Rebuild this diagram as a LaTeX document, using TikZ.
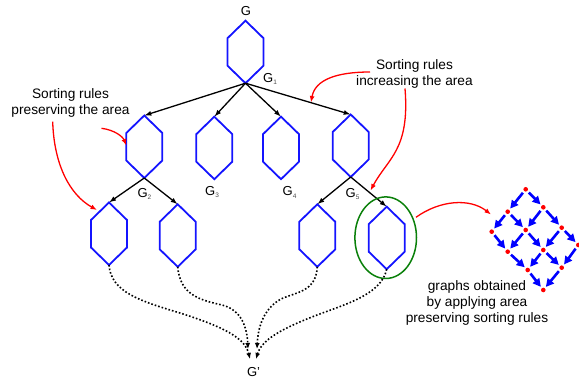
\documentclass[tikz,border=0pt]{standalone}
\usepackage{fontspec}
\setmainfont{Liberation Sans}
\usetikzlibrary{arrows.meta,shapes.geometric}
\definecolor{hexblue}{RGB}{20,20,255}
\definecolor{ringgreen}{RGB}{10,128,10}
\newcommand\gname[1]{G\raisebox{-2.6pt}{\fontsize{6.5}{7}\selectfont\color{black!70}#1}}
\tikzset{
  hexline/.style={draw=hexblue, line width=1.8pt},
  hexa/.pic={
    \draw[hexline] (0,0) -- (18,17.5) -- (18,45) -- (0,62.5) -- (-18,45) -- (-18,17.5) -- cycle;
    \coordinate (-top) at (0,0);
    \coordinate (-bot) at (0,62.5);
  },
  ruleedge/.style={line width=1.3pt, -{Latex[length=7pt,width=5pt]}},
  noteedge/.style={draw=red, line width=1.3pt, -{Latex[length=6.5pt,width=5pt]}},
  mergeedge/.style={line width=1.6pt, dotted, -{Latex[length=6pt,width=5pt]}},
  latedge/.style={draw=blue, line width=2.6pt, shorten <=2pt, shorten >=1.5pt,
                  -{Triangle[length=8pt,width=8pt]}},
  latdot/.style={circle, fill=red, inner sep=0pt, minimum size=4.6pt},
  gl/.style={font=\fontsize{13}{15}\selectfont, inner sep=0pt},
  note/.style={font=\fontsize{13.7}{16}\selectfont, align=center, inner sep=0pt},
}
\begin{document}
\begin{tikzpicture}[x=1pt,y=-1pt]
\useasboundingbox (0,0) rectangle (579,379);

% derivation tree of hexagon graphs
\pic (h0) at (245.5,20.7) {hexa};
\pic (h1) at (144.3,115.5) {hexa};
\pic (h2) at (214.3,116.7) {hexa};
\pic (h3) at (281,116.7) {hexa};
\pic (h4) at (350.7,114.5) {hexa};
\pic (h5) at (109,202.5) {hexa};
\pic (h6) at (177.7,204.3) {hexa};
\pic (h7) at (317.3,204.3) {hexa};
\pic (h8) at (386.7,206.7) {hexa};

\draw[ruleedge] (h0-bot) -- (h1-top);
\draw[ruleedge] (h0-bot) -- (h2-top);
\draw[ruleedge] (h0-bot) -- (h3-top);
\draw[ruleedge] (h0-bot) -- (h4-top);
\draw[ruleedge] (h1-bot) -- (h5-top);
\draw[ruleedge] (h1-bot) -- (h6-top);
\draw[ruleedge] (h4-bot) -- (h7-top);
\draw[ruleedge] (h4-bot) -- (h8-top);

% labels
\node[gl] (lg)  at (246,11.5) {G};
\node[gl] (lg1) at (270,79) {\gname{1}};
\node[gl] (lg2) at (144.5,194) {\gname{2}};
\node[gl] (lg3) at (212,192) {\gname{3}};
\node[gl] (lg4) at (289.5,192.5) {\gname{4}};
\node[gl] (lg5) at (352.5,194) {\gname{5}};
\node[gl] (lgp) at (253.5,372) {G'};

% selected graph
\node[draw=ringgreen, line width=1.5pt, ellipse, minimum width=61.6pt, minimum height=81.6pt, inner sep=0pt] (ring) at (385.7,237.7) {};

% merging towards G'
\coordinate (m1) at (250,359);
\coordinate (m2) at (248,349);
\coordinate (m3) at (257,349);
\coordinate (m4) at (256,359);
\draw[mergeedge] (h5-bot) .. controls (111,292) and (140,301) .. (180,313)
                 .. controls (224,327) and (245,338) .. (m1);
\draw[mergeedge] (h6-bot) .. controls (180,295) and (200,300) .. (222,305)
                 .. controls (242,310) and (247,328) .. (m2);
\draw[mergeedge] (h7-bot) .. controls (316,292) and (296,292) .. (281,299)
                 .. controls (263,309) and (258,328) .. (m3);
\draw[mergeedge] (h8-bot) .. controls (381,296) and (342,305) .. (312,317)
                 .. controls (276,331) and (261,342) .. (m4);

% annotations
\node[note] (tpres) at (70.5,102.5) {Sorting rules\\preserving the area};
\node[note] (tincr) at (414.5,73.5) {Sorting rules\\increasing the area};
\node[note] (tgraph) at (477,303) {graphs obtained\\by applying area\\preserving sorting rules};

\coordinate (a1s) at (370,72);
\coordinate (a1e) at (311,102.5);
\coordinate (a2s) at (405,88.5);
\coordinate (a2e) at (370.5,190.5);
\coordinate (a3s) at (101.5,128.3);
\coordinate (a3e) at (126.3,145.5);
\coordinate (a4s) at (52.7,121.7);
\coordinate (a4e) at (97,210);
\coordinate (a5s) at (416,217.3);
\coordinate (a5e) at (491,214.5);
\draw[noteedge] (a1s) .. controls (336,72) and (315,80) .. (a1e);
\draw[noteedge] (a2s) .. controls (410,150) and (388,158) .. (a2e);
\draw[noteedge] (a3s) .. controls (115,130) and (123,137) .. (a3e);
\draw[noteedge] (a4s) .. controls (54,165) and (70,195) .. (a4e);
\draw[noteedge] (a5s) .. controls (440,200) and (470,198) .. (a5e);

% lattice of sorted graphs
\node[latdot] (p00) at (525.7,189.3) {};
\node[latdot] (p01) at (543.3,207.3) {};
\node[latdot] (p10) at (507.7,211.7) {};
\node[latdot] (p02) at (561.7,227.7) {};
\node[latdot] (p11) at (525.7,230) {};
\node[latdot] (p20) at (491.7,231.7) {};
\node[latdot] (p03) at (578.3,245) {};
\node[latdot] (p12) at (543.3,250) {};
\node[latdot] (p21) at (507.7,251.7) {};
\node[latdot] (p13) at (561.7,267.7) {};
\node[latdot] (p22) at (527.7,270) {};
\node[latdot] (p23) at (543.3,290) {};
\foreach \a/\b in {p00/p10,p10/p20,p01/p11,p11/p21,p02/p12,p12/p22,p03/p13,p13/p23,
                   p00/p01,p01/p02,p02/p03,p10/p11,p11/p12,p12/p13,p20/p21,p21/p22,p22/p23}
  \draw[latedge] (\a) -- (\b);
\end{tikzpicture}
\end{document}
